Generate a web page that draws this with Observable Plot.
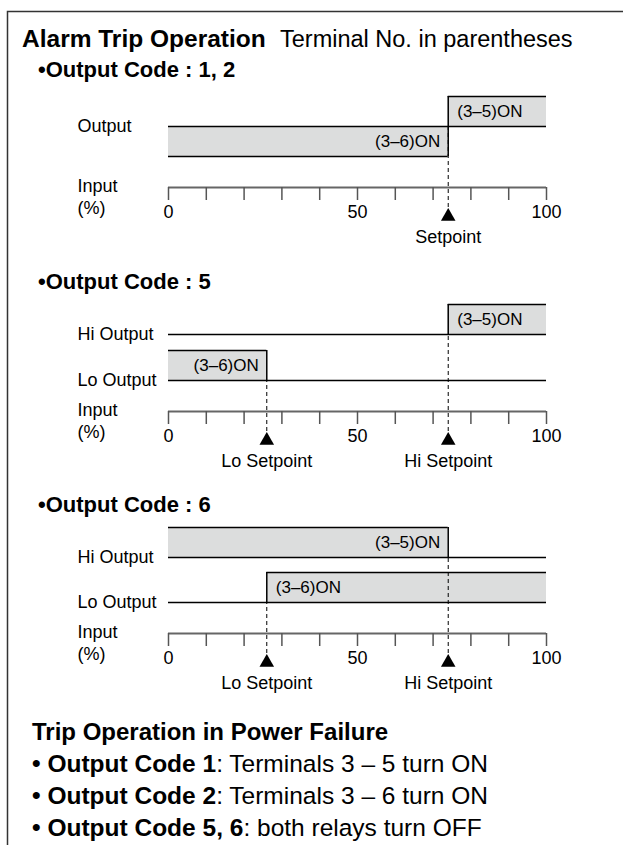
<!DOCTYPE html>
<html><head><meta charset="utf-8">
<script src="https://cdn.jsdelivr.net/npm/d3@7"></script>
<script src="https://cdn.jsdelivr.net/npm/@observablehq/plot@0.6"></script>
<style>
body{margin:0;background:#fff;}
#root{position:relative;width:623px;height:845px;overflow:hidden;font-family:"Liberation Sans",Arial,Helvetica,sans-serif;color:#000;}
#root svg.plot, #root > svg{position:absolute;left:0;overflow:visible;}
</style></head><body><div id="root"></div>
<script>
// ---------- data ----------
const title = "Alarm Trip Operation";
const subtitle = "Terminal No. in parentheses";
const sections = ["•Output Code : 1, 2", "•Output Code : 5", "•Output Code : 6"];
const tickValues = [0, 10, 20, 30, 40, 50, 60, 70, 80, 90, 100];
const tickLabels = [0, 50, 100];
const inputLabel = ["Input", "(%)"];

// panel 1 : Output Code 1, 2
const p1Channels = ["Output"];
const p1Setpoints = [{name: "Setpoint", value: 74, channel: "Output"}];
const p1On = [
  {label: "(3–6)ON", channel: "Output", side: "below", from: 0, to: 74},
  {label: "(3–5)ON", channel: "Output", side: "above", from: 74, to: 100}
];
// panel 2 : Output Code 5
const p2Channels = ["Hi Output", "Lo Output"];
const p2Setpoints = [
  {name: "Lo Setpoint", value: 26, channel: "Lo Output"},
  {name: "Hi Setpoint", value: 74, channel: "Hi Output"}
];
const p2On = [
  {label: "(3–5)ON", channel: "Hi Output", side: "above", from: 74, to: 100},
  {label: "(3–6)ON", channel: "Lo Output", side: "above", from: 0, to: 26}
];
// panel 3 : Output Code 6
const p3Channels = ["Hi Output", "Lo Output"];
const p3Setpoints = [
  {name: "Lo Setpoint", value: 26, channel: "Lo Output"},
  {name: "Hi Setpoint", value: 74, channel: "Hi Output"}
];
const p3On = [
  {label: "(3–5)ON", channel: "Hi Output", side: "above", from: 0, to: 74},
  {label: "(3–6)ON", channel: "Lo Output", side: "above", from: 26, to: 100}
];

const footTitle = "Trip Operation in Power Failure";
const footBold = ["Output Code 1", "Output Code 2", "Output Code 5, 6"];
const footText = [": Terminals 3 – 5 turn ON", ": Terminals 3 – 6 turn ON", ": both relays turn OFF"];

// ---------- layout ----------
const W = 623;
const ABOVE = 115, BELOW = 65;   // px above / below the input axis in each panel svg
const BOX = 30;                  // ON box height (px units of y scale)
const FONT = "'Liberation Sans', Arial, Helvetica, sans-serif";
const root = document.getElementById("root");

function panel({channels, levels, on, setpoints, axisY}) {
  const boxes = on.map(d => {
    const b = levels[d.channel];
    return {...d, y1: d.side === "below" ? b - BOX : b, y2: d.side === "below" ? b : b + BOX};
  });
  const edgeX = d => (d.from > 0 ? d.from : d.to);
  const startLab = boxes.filter(d => d.from > 0);
  const endLab = boxes.filter(d => d.from === 0);
  const svg = Plot.plot({
    width: W, height: ABOVE + BELOW,
    marginLeft: 168, marginRight: 77, marginTop: 0, marginBottom: BELOW,
    x: {domain: [0, 100], axis: null},
    y: {domain: [0, ABOVE], axis: null},
    style: {fontFamily: FONT, fontSize: "18px", color: "#000", background: "transparent"},
    marks: [
      Plot.rect(boxes, {x1: "from", x2: "to", y1: "y1", y2: "y2", fill: "#dcdddd"}),
      // dashed setpoint guides
      Plot.ruleX(setpoints, {x: "value", y1: () => -20, y2: d => levels[d.channel], stroke: "#000", strokeWidth: 1, strokeDasharray: "4,3"}),
      // channel base lines
      Plot.ruleY(channels, {y: d => levels[d], x1: () => 0, x2: () => 100, stroke: "#000", strokeWidth: 1.5}),
      // outer edge of each ON box
      Plot.ruleY(boxes, {y: d => (d.side === "below" ? d.y1 : d.y2), x1: "from", x2: "to", stroke: "#000", strokeWidth: 1.5}),
      // switching edge
      Plot.ruleX(boxes, {x: edgeX, y1: "y1", y2: "y2", stroke: "#000", strokeWidth: 1.5}),
      // ON labels
      Plot.text(startLab, {x: edgeX, y: d => (d.y1 + d.y2) / 2, text: "label", textAnchor: "start", dx: 9, fontSize: 17, ariaLabel: "onlabel"}),
      Plot.text(endLab, {x: edgeX, y: d => (d.y1 + d.y2) / 2, text: "label", textAnchor: "end", dx: -8, fontSize: 17, ariaLabel: "onlabel"}),
      // channel labels
      Plot.text(channels, {y: d => levels[d], text: d => d, frameAnchor: "left", textAnchor: "start", dx: 77 - 168, fontSize: 18}),
      Plot.text(inputLabel, {y: (d, i) => (i === 0 ? 1 : -21), text: d => d, frameAnchor: "left", textAnchor: "start", dx: 77 - 168, fontSize: 18}),
      // input axis
      Plot.ruleY([0], {stroke: "#666", strokeWidth: 2}),
      Plot.axisX({ticks: tickValues, tickSize: 13, tickPadding: 5, stroke: "#555", strokeWidth: 1.5,
        tickFormat: d => (tickLabels.includes(d) ? d : ""), fontSize: 18}),
      // setpoints
      Plot.dot(setpoints, {x: "value", y: () => -29, symbol: "triangle", r: 5.4, fill: "#000", stroke: null}),
      Plot.text(setpoints, {x: "value", y: () => -50, text: "name", fontSize: 18})
    ]
  });
  svg.style.top = (axisY - ABOVE) + "px";
  root.appendChild(svg);
  // white backgrounds behind the ON labels
  svg.querySelectorAll('g[aria-label="onlabel"] text').forEach(t => {
    const bb = t.getBBox();
    const r = document.createElementNS("http://www.w3.org/2000/svg", "rect");
    const cy = bb.y + bb.height / 2;
    r.setAttribute("x", bb.x - 4); r.setAttribute("width", bb.width + 8);
    r.setAttribute("y", cy - 10); r.setAttribute("height", 20);
    r.setAttribute("fill", "#fff");
    const tr = t.getAttribute("transform");
    if (tr) r.setAttribute("transform", tr);
    t.parentNode.insertBefore(r, t);
  });
}

// ---------- static text layer ----------
const NS = "http://www.w3.org/2000/svg";
const txt = document.createElementNS(NS, "svg");
txt.setAttribute("width", W); txt.setAttribute("height", 845);
txt.style.top = "0px";
txt.style.fontFamily = FONT;
function addText(x, y, parts, size) {
  const t = document.createElementNS(NS, "text");
  t.setAttribute("x", x); t.setAttribute("y", y); t.setAttribute("font-size", size);
  parts.forEach(([s, bold]) => {
    const sp = document.createElementNS(NS, "tspan");
    sp.textContent = s;
    if (bold) sp.setAttribute("font-weight", "bold");
    t.appendChild(sp);
  });
  txt.appendChild(t);
  return t;
}
const frame = document.createElementNS(NS, "rect");
frame.setAttribute("x", 7.5); frame.setAttribute("y", 11.5);
frame.setAttribute("width", 700); frame.setAttribute("height", 900);
frame.setAttribute("fill", "none"); frame.setAttribute("stroke", "#333"); frame.setAttribute("stroke-width", 1.5);
txt.appendChild(frame);
addText(22, 47, [[title, true]], 24.5);
addText(280, 47, [[subtitle, false]], 23.5);
const headerY = [77, 289, 512];
sections.forEach((s, i) => addText(38, headerY[i], [[s, true]], 22));
addText(32, 740, [[footTitle, true]], 24);
footBold.forEach((b, i) => addText(32, 772 + i * 32, [["• " + b, true], [footText[i], false]], 24.5));
root.appendChild(txt);

panel({channels: p1Channels, levels: {"Output": 61}, on: p1On, setpoints: p1Setpoints, axisY: 187});
panel({channels: p2Channels, levels: {"Lo Output": 31, "Hi Output": 77}, on: p2On, setpoints: p2Setpoints, axisY: 411});
panel({channels: p3Channels, levels: {"Lo Output": 31, "Hi Output": 76}, on: p3On, setpoints: p3Setpoints, axisY: 633});
</script></body></html>
